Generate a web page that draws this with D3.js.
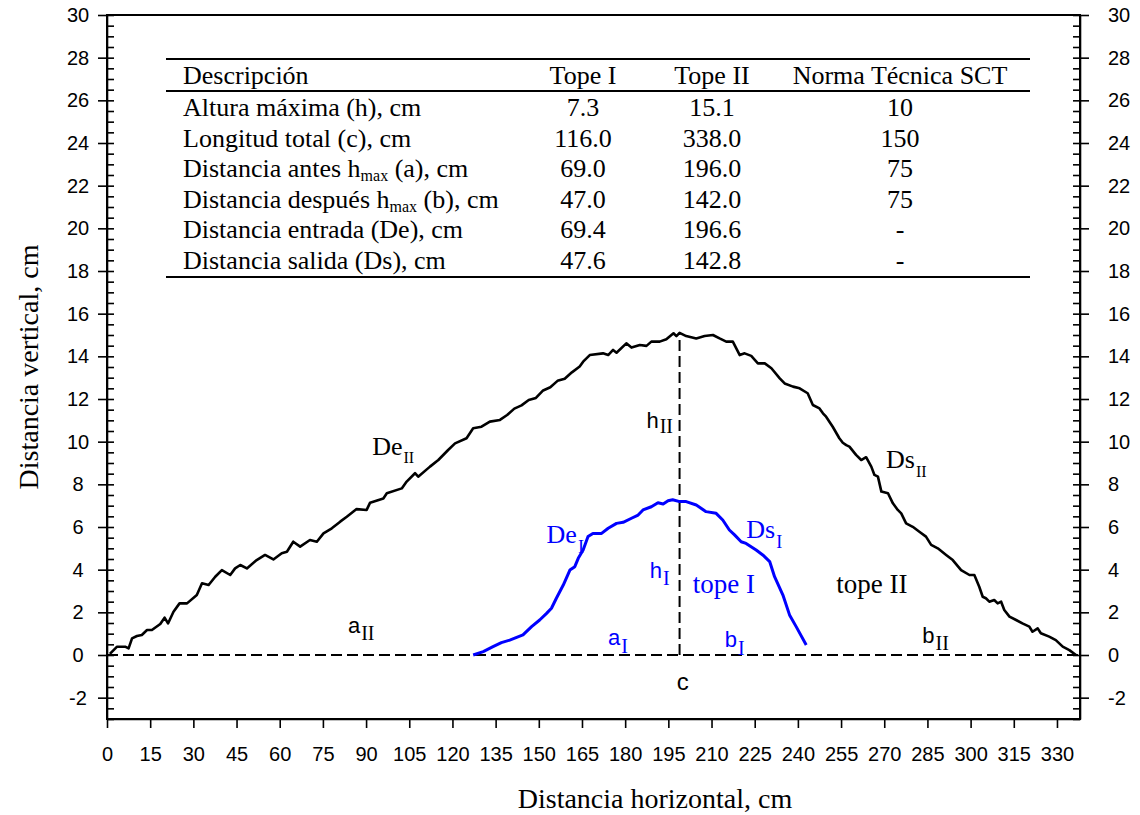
<!DOCTYPE html>
<html lang="es">
<head>
<meta charset="utf-8">
<style>
  body { margin: 0; background: #fff; }
  .serif { font-family: "Liberation Serif", "Times New Roman", serif; }
  .sans { font-family: "Liberation Sans", Arial, sans-serif; }
  .axis text { font-family: "Liberation Sans", Arial, sans-serif; font-size: 20px; fill: #000; }
  .axis line, .axis path { stroke: #000; stroke-width: 1.6px; }
</style>
</head>
<body>
<svg width="1140" height="815"></svg>
<script src="https://cdn.jsdelivr.net/npm/d3@7"></script>
<script>
// ticks
var xTicks = [0, 15, 30, 45, 60, 75, 90, 105, 120, 135, 150, 165, 180, 195, 210, 225, 240, 255, 270, 285, 300, 315, 330];
var yTicks = [-2, 0, 2, 4, 6, 8, 10, 12, 14, 16, 18, 20, 22, 24, 26, 28, 30];

// perfil tope II (x cm, altura cm)
var topeII = [
  [1, 0.05], [3.5, 0.39], [6.3, 0.39], [7.5, 0.31], [8.7, 0.78], [10.4, 0.89], [12.1, 0.94], [13.9, 1.17],
  [15.6, 1.17], [18.5, 1.45], [20.0, 1.75], [21.2, 1.48], [23.1, 2.03], [25.2, 2.42], [27.8, 2.42], [31.2, 2.81],
  [33.0, 3.36], [35.3, 3.28], [37.6, 3.67], [39.9, 3.98], [42.8, 3.75], [44.5, 4.06], [46.3, 4.22], [48.6, 4.06],
  [52.0, 4.45], [54.9, 4.69], [57.8, 4.48], [60.7, 4.77], [62.5, 4.84], [64.7, 5.31], [67.1, 5.08], [70.5, 5.39],
  [72.9, 5.31], [75.2, 5.70], [78.1, 5.94], [81.0, 6.25], [83.3, 6.48], [86.7, 6.84], [90.2, 6.80], [91.4, 7.14],
  [96.0, 7.34], [97.2, 7.58], [102.4, 7.81], [104.1, 8.13], [107.0, 8.52], [108.1, 8.36], [112.2, 8.83], [115.1, 9.14],
  [118.5, 9.61], [120.9, 9.92], [124.9, 10.16], [127.2, 10.63], [130.1, 10.70], [133.0, 10.94], [136.5, 11.02],
  [139, 11.25], [141.5, 11.55], [144, 11.7], [146.5, 11.95], [149, 12.05], [151.5, 12.4], [154, 12.55],
  [156.5, 12.85], [159, 12.95], [161.5, 13.25], [164.2, 13.52], [165.4, 13.75], [167.7, 14.06], [172.3, 14.14],
  [174.1, 14.06], [175.8, 14.30], [177.0, 14.17], [180.4, 14.61], [182.2, 14.41], [185.1, 14.53], [187.4, 14.49],
  [189.1, 14.69], [192.0, 14.69], [194.3, 14.80], [196.8, 15.08], [197.8, 14.95], [198.9, 15.1], [201.2, 14.95],
  [204.7, 14.84], [207.6, 14.95], [210.5, 15.0], [212.8, 14.84], [215.1, 14.69], [217.4, 14.69], [219.8, 14.06],
  [221.5, 14.14], [223.8, 14.02], [226.1, 13.67], [228.5, 13.67], [230.8, 13.44], [233.7, 12.97], [235.4, 12.73],
  [238.3, 12.58], [240.6, 12.50], [243.4, 12.27], [245.2, 11.72], [247.5, 11.56], [248.7, 11.33], [249.8, 11.17],
  [252.1, 10.70], [254.4, 10.16], [255.6, 9.95], [256.8, 9.84], [257.9, 9.77], [260.2, 9.38], [262.0, 9.14],
  [263.7, 9.27], [265.5, 8.83], [266.6, 8.44], [267.8, 8.36], [269.0, 7.66], [271.3, 7.58], [273.0, 7.11],
  [274.7, 6.80], [275.9, 6.64], [277.6, 6.17], [279.9, 6.01], [282.2, 5.78], [284.5, 5.55], [286.3, 5.16],
  [288.6, 5.00], [291.5, 4.69], [293.8, 4.45], [296.7, 3.98], [299.6, 3.75], [301.3, 3.75], [303.0, 3.20],
  [304.2, 2.73], [305.3, 2.66], [306.5, 2.50], [308.2, 2.58], [309.4, 2.42], [310.6, 2.50], [311.7, 2.11],
  [313.5, 1.80], [315.8, 1.64], [318.0, 1.48], [320.4, 1.33], [321.5, 1.09], [323.3, 1.25], [324.4, 1.02],
  [327.3, 0.86], [329.6, 0.70], [332.0, 0.39], [334.3, 0.23], [336.6, 0.0]
];

// perfil tope I
var topeI = [
  [127.2, 0], [130.7, 0.16], [134.1, 0.39], [137.0, 0.58], [139.9, 0.70], [144.5, 0.94], [147.5, 1.33],
  [150.3, 1.64], [152.7, 1.95], [154.4, 2.19], [156.1, 2.66], [158.5, 3.28], [160.8, 3.98], [162.5, 4.14],
  [163.7, 4.53], [165.4, 4.92], [167.1, 5.55], [168.8, 5.70], [171.8, 5.70], [174.1, 5.94], [177.0, 6.17],
  [179.3, 6.22], [182.2, 6.41], [184.5, 6.56], [186.2, 6.80], [189.1, 6.95], [191.4, 7.14], [193.2, 7.08],
  [194.9, 7.23], [196.5, 7.28], [198.9, 7.19], [201.2, 7.19], [204.7, 7.03], [208.1, 6.72], [211.6, 6.64],
  [213.9, 6.33], [216.2, 5.86], [218.0, 5.63], [220.3, 5.31], [222.0, 5.23], [225.5, 4.92], [227.8, 4.69],
  [230.2, 4.38], [231.9, 3.67], [234.8, 2.81], [237.1, 1.88], [239.4, 1.33], [242.9, 0.47]
];

var peakX = 198.9, peakH = 15.1, totalLength = 338;

// tabla
var tableHeader = ["Descripción", "Tope I", "Tope II", "Norma Técnica SCT"];
var rowLabels = [
  ["Altura máxima (h), cm"],
  ["Longitud total (c), cm"],
  ["Distancia antes h", "max", " (a), cm"],
  ["Distancia después h", "max", " (b), cm"],
  ["Distancia entrada (De), cm"],
  ["Distancia salida (Ds), cm"]
];
var topeIValues = ["7.3", "116.0", "69.0", "47.0", "69.4", "47.6"];
var topeIIValues = ["15.1", "338.0", "196.0", "142.0", "196.6", "142.8"];
var normaValues = ["10", "150", "75", "75", "-", "-"];

var svg = d3.select("svg");
var plotL = 107, plotR = 1080, plotT = 15, plotB = 719;

var x = d3.scaleLinear().domain([0, 338]).range([plotL, plotR]);
var y = d3.scaleLinear().domain([-3, 30]).range([plotB, plotT]);
var minorY = d3.range(-3, 30.01, 0.5);
var plain = function (d) { return String(d); };

// ejes
var gl = svg.append("g").attr("class", "axis").attr("transform", "translate(" + plotL + ",0)")
  .call(d3.axisLeft(y).tickValues(yTicks).tickFormat(plain).tickSize(9).tickSizeOuter(0));
gl.selectAll("text").attr("x", -29).attr("text-anchor", "middle");
svg.append("g").attr("class", "axis minor").attr("transform", "translate(" + plotL + ",0)")
  .call(d3.axisRight(y).tickValues(minorY).tickSize(7).tickFormat(""));

var gr = svg.append("g").attr("class", "axis").attr("transform", "translate(" + plotR + ",0)")
  .call(d3.axisRight(y).tickValues(yTicks).tickFormat(plain).tickSize(9).tickSizeOuter(0));
gr.selectAll("text").attr("x", 28).attr("text-anchor", "start");
svg.append("g").attr("class", "axis minor").attr("transform", "translate(" + plotR + ",0)")
  .call(d3.axisLeft(y).tickValues(minorY).tickSize(7).tickFormat(""));

svg.append("g").attr("class", "axis").attr("transform", "translate(0," + plotB + ")")
  .call(d3.axisBottom(x).tickValues(xTicks).tickFormat(plain).tickSize(9).tickSizeOuter(0).tickPadding(19));

svg.selectAll(".minor path").remove();

svg.append("rect")
  .attr("x", plotL).attr("y", plotT).attr("width", plotR - plotL).attr("height", plotB - plotT)
  .attr("fill", "none").attr("stroke", "#000").attr("stroke-width", 2);

// titulos
svg.append("text").attr("class", "serif")
  .attr("x", 655).attr("y", 808).attr("text-anchor", "middle")
  .style("font-size", "28px").text("Distancia horizontal, cm");
svg.append("text").attr("class", "serif")
  .attr("transform", "translate(38,367) rotate(-90)").attr("text-anchor", "middle")
  .style("font-size", "28px").text("Distancia vertical, cm");

// lineas discontinuas
svg.append("line")
  .attr("x1", x(0)).attr("x2", x(totalLength)).attr("y1", y(0)).attr("y2", y(0))
  .attr("stroke", "#000").attr("stroke-width", 2).attr("stroke-dasharray", "11,5");
svg.append("line")
  .attr("x1", x(peakX)).attr("x2", x(peakX)).attr("y1", y(0)).attr("y2", y(peakH))
  .attr("stroke", "#000").attr("stroke-width", 2).attr("stroke-dasharray", "11,5");

// perfiles
var line = d3.line().x(function (d) { return x(d[0]); }).y(function (d) { return y(d[1]); });
svg.append("path").datum(topeII).attr("d", line)
  .attr("fill", "none").attr("stroke", "#000").attr("stroke-width", 2.6).attr("stroke-linejoin", "round");
svg.append("path").datum(topeI).attr("d", line)
  .attr("fill", "none").attr("stroke", "#0000ff").attr("stroke-width", 3).attr("stroke-linejoin", "round");

// etiquetas
function label(xv, yv, main, mainFont, mainSize, sub, subSize, subDy, color, anchor) {
  var t = svg.append("text").attr("x", x(xv)).attr("y", y(yv)).attr("fill", color)
    .attr("text-anchor", anchor || "start");
  t.append("tspan").attr("class", mainFont).style("font-size", mainSize + "px").text(main);
  if (sub) {
    t.append("tspan").attr("class", "serif").attr("dx", 1).attr("dy", subDy)
      .style("font-size", subSize + "px").text(sub);
  }
}
label(92.1, 9.38, "De", "serif", 26, "II", 16, 8, "#000");
label(83.7, 1.03, "a", "sans", 22, "II", 20, 7, "#000");
label(187.4, 10.63, "h", "sans", 22, "II", 20, 5, "#000");
label(270.6, 8.77, "Ds", "serif", 26, "II", 16, 9, "#000");
label(253.3, 2.91, "tope II", "serif", 27, null, 0, 0, "#000");
label(283.2, 0.55, "b", "sans", 22, "II", 20, 7, "#000");
label(200, -1.64, "c", "sans", 24, null, 0, 0, "#000", "middle");

label(152.7, 5.25, "De", "serif", 26, "I", 18, 10, "#0000ff");
label(222.1, 5.48, "Ds", "serif", 26, "I", 18, 10, "#0000ff");
label(188.5, 3.61, "h", "sans", 22, "I", 20, 7, "#0000ff");
label(203.5, 2.89, "tope I", "serif", 27, null, 0, 0, "#0000ff");
label(174.0, 0.47, "a", "sans", 22, "I", 20, 8, "#0000ff");
label(214.6, 0.39, "b", "sans", 22, "I", 20, 8, "#0000ff");

// tabla
var tab = svg.append("g").attr("class", "serif").style("font-size", "26px");
var tx0 = 166, tx1 = 1030, colX = [183, 583, 712, 900];
[59, 91, 277].forEach(function (yy) {
  tab.append("line").attr("x1", tx0).attr("x2", tx1).attr("y1", yy).attr("y2", yy)
    .attr("stroke", "#000").attr("stroke-width", 2);
});
tableHeader.forEach(function (h, i) {
  tab.append("text").attr("x", colX[i]).attr("y", 84)
    .attr("text-anchor", i === 0 ? "start" : "middle").text(h);
});
rowLabels.forEach(function (parts, i) {
  var yy = 116 + i * 30.6;
  var t = tab.append("text").attr("x", colX[0]).attr("y", yy);
  t.append("tspan").text(parts[0]);
  if (parts.length > 1) {
    t.append("tspan").attr("dy", 4).style("font-size", "16px").text(parts[1]);
    t.append("tspan").attr("dy", -4).text(parts[2]);
  }
  [topeIValues, topeIIValues, normaValues].forEach(function (col, j) {
    tab.append("text").attr("x", colX[j + 1]).attr("y", yy).attr("text-anchor", "middle").text(col[i]);
  });
});
</script>
</body>
</html>
